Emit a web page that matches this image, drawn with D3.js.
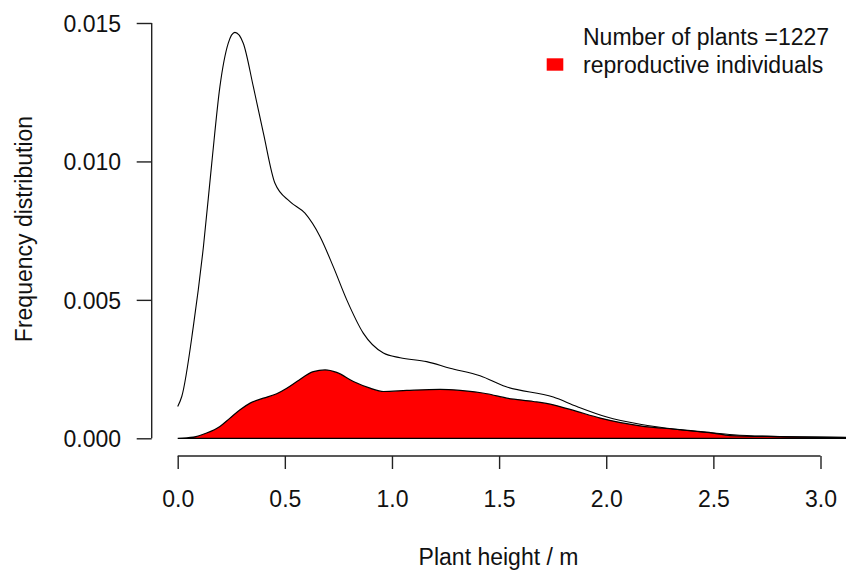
<!DOCTYPE html>
<html>
<head>
<meta charset="utf-8">
<script src="https://cdn.jsdelivr.net/npm/d3@7"></script>
<style>
  html, body { margin: 0; padding: 0; background: #fff; }
  svg { display: block; }
  text { font-family: "Liberation Sans", Arial, sans-serif; fill: #111; }
</style>
</head>
<body>
<svg id="chart" width="846" height="570"></svg>
<script>
// ---- Data ----
const allHeights = [0.000, 0.019, 0.073, 0.120, 0.159, 0.197, 0.236, 0.267, 0.306, 0.353, 0.400, 0.454, 0.524, 0.594, 0.664, 0.726, 0.789, 0.866, 0.960, 1.038, 1.162, 1.271, 1.411, 1.530, 1.753, 1.863, 2.003, 2.158, 2.345, 2.500, 2.593, 2.812, 3.120];
const allDensity = [0.00115, 0.00151, 0.00404, 0.00692, 0.00994, 0.01270, 0.01427, 0.01466, 0.01427, 0.01270, 0.01102, 0.00921, 0.00855, 0.00813, 0.00729, 0.00620, 0.00500, 0.00380, 0.00308, 0.00291, 0.00277, 0.00253, 0.00226, 0.00187, 0.00149, 0.00115, 0.00077, 0.00051, 0.00031, 0.00019, 0.00013, 0.00006, 0.00003];

const reproHeights = [0.000, 0.073, 0.135, 0.197, 0.244, 0.291, 0.338, 0.400, 0.462, 0.509, 0.556, 0.633, 0.688, 0.742, 0.820, 0.898, 0.960, 1.069, 1.225, 1.318, 1.443, 1.536, 1.660, 1.753, 1.863, 1.972, 2.158, 2.345, 2.500, 2.578, 2.812, 3.120];
const reproDensity = [0.00000, 0.00004, 0.00019, 0.00043, 0.00073, 0.00103, 0.00127, 0.00145, 0.00161, 0.00181, 0.00205, 0.00241, 0.00247, 0.00238, 0.00205, 0.00181, 0.00169, 0.00173, 0.00177, 0.00173, 0.00161, 0.00145, 0.00133, 0.00121, 0.00097, 0.00073, 0.00045, 0.00031, 0.00019, 0.00010, 0.00006, 0.00003];

const xTicks = [0.0, 0.5, 1.0, 1.5, 2.0, 2.5, 3.0];
const yTicks = [0.000, 0.005, 0.010, 0.015];
const legendLabels = ["Number of plants =1227", "reproductive individuals"];
const xTitle = "Plant height / m";
const yTitle = "Frequency distribution";

// ---- Chart ----
const svg = d3.select("#chart");
const x = d3.scaleLinear().domain([0, 3]).range([177.7, 820.5]);
const y = d3.scaleLinear().domain([0, 0.015]).range([438.3, 23]);
const FS = 23;

const allData = allHeights.map((h, i) => ({ h, d: allDensity[i] }));
const reproData = reproHeights.map((h, i) => ({ h, d: reproDensity[i] }));

// reproductive area (filled red with black outline)
const area = d3.area()
  .x(p => x(p.h))
  .y0(y(0))
  .y1(p => y(p.d))
  .curve(d3.curveMonotoneX);
svg.append("path")
  .datum(reproData)
  .attr("d", area)
  .attr("fill", "#ff0000")
  .attr("stroke", "#000")
  .attr("stroke-width", 1.2);

// total density line
const line = d3.line()
  .x(p => x(p.h))
  .y(p => y(p.d))
  .curve(d3.curveMonotoneX);
svg.append("path")
  .datum(allData)
  .attr("d", line)
  .attr("fill", "none")
  .attr("stroke", "#000")
  .attr("stroke-width", 1.1);

// Y axis (R style, detached)
const yAxisX = 151.7;
const yAxis = d3.axisLeft(y).tickValues(yTicks).tickSize(15).tickPadding(0).tickFormat(d3.format(".3f"));
const gy = svg.append("g").attr("transform", `translate(${yAxisX},0)`).call(yAxis);
gy.select(".domain").attr("d", `M0,${y(0)}V${y(0.015)}`).attr("stroke", "#222").attr("stroke-width", 1.4);
gy.selectAll(".tick line").attr("stroke", "#222").attr("stroke-width", 1.4);
gy.selectAll(".tick text")
  .attr("x", 121 - yAxisX).attr("dy", null).attr("y", 8.3)
  .attr("text-anchor", "end")
  .style("font-family", '"Liberation Sans", Arial, sans-serif')
  .style("font-size", FS + "px").attr("fill", "#111");

// X axis
const xAxisY = 456;
const xAxis = d3.axisBottom(x).tickValues(xTicks).tickSize(13).tickPadding(0).tickFormat(d3.format(".1f"));
const gx = svg.append("g").attr("transform", `translate(0,${xAxisY})`).call(xAxis);
gx.select(".domain").attr("d", `M${x(0)},0H${x(3)}`).attr("stroke", "#222").attr("stroke-width", 1.4);
gx.selectAll(".tick line").attr("stroke", "#222").attr("stroke-width", 1.4);
gx.selectAll(".tick text")
  .attr("y", 507.3 - xAxisY).attr("dy", null)
  .style("font-family", '"Liberation Sans", Arial, sans-serif')
  .style("font-size", FS + "px").attr("fill", "#111");

// Titles
svg.append("text")
  .attr("x", 498.5).attr("y", 565)
  .attr("text-anchor", "middle")
  .style("font-size", FS + "px")
  .text(xTitle);
svg.append("text")
  .attr("transform", "translate(32,229) rotate(-90)")
  .attr("text-anchor", "middle")
  .style("font-size", FS + "px")
  .text(yTitle);

// Legend
svg.append("text").attr("x", 583).attr("y", 45).style("font-size", FS + "px").text(legendLabels[0]);
svg.append("rect").attr("x", 546.7).attr("y", 58.3).attr("width", 16.6).attr("height", 12.4).attr("fill", "#ff0000");
svg.append("text").attr("x", 583).attr("y", 73.3).style("font-size", FS + "px").text(legendLabels[1]);
</script>
</body>
</html>
